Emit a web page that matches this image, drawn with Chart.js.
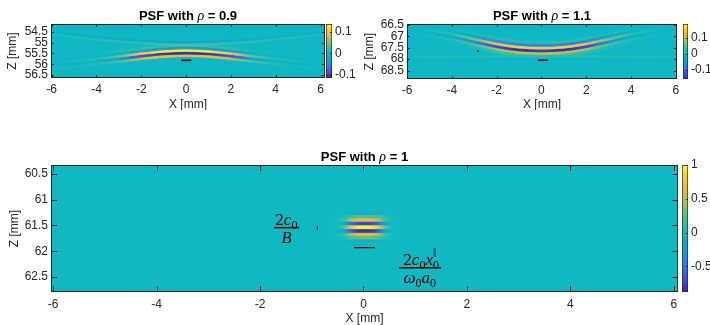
<!DOCTYPE html>
<html>
<head>
<meta charset="utf-8">
<script src="https://cdn.jsdelivr.net/npm/chart.js@4.4.1/dist/chart.umd.min.js"></script>
<style>
  body { margin: 0; width: 710px; height: 325px; background: #fff; position: relative; overflow: hidden; }
  canvas { position: absolute; }
</style>
</head>
<body>
<canvas id="psf09" width="334" height="110" style="left:0;top:0"></canvas>
<canvas id="cb09" width="30" height="110" style="left:326px;top:0"></canvas>
<canvas id="psf11" width="334" height="110" style="left:355px;top:0"></canvas>
<canvas id="cb11" width="27" height="110" style="left:683px;top:0"></canvas>
<canvas id="psf1" width="690" height="190" style="left:0;top:135px"></canvas>
<canvas id="cb1" width="28" height="190" style="left:682px;top:135px"></canvas>
<script>
const xTicks = [-6, -4, -2, 0, 2, 4, 6];

// PSF with rho = 0.9
const zTicks09 = [54.5, 55, 55.5, 56, 56.5];
const cbTicks09 = [0.1, 0, -0.1];
const arcX09 = [-6, -5, -4, -3, -2, -1, 0, 1, 2, 3, 4, 5, 6];
const arcZ09 = [55.97, 55.86, 55.74, 55.63, 55.5, 55.4, 55.36, 55.4, 55.5, 55.63, 55.74, 55.86, 55.97];
const arcGain09 = [0.03, 0.05, 0.1, 0.28, 0.8, 1, 1, 1, 0.8, 0.28, 0.1, 0.05, 0.03];
const stripeDz09 = [-0.24, -0.12, 0, 0.12, 0.24];
const stripePeak09 = [0.02, -0.04, 0.13, -0.11, 0.09];
const sideX09 = [-6, -4, -2, 0, 2, 4, 6];
const sideZ09 = [54.62, 54.85, 55.02, 55.1, 55.02, 54.85, 54.62];
const sideAmp09 = [0.012, 0.015, 0.02, 0.035, 0.02, 0.015, 0.012];
const dotX09 = [-2.9, -2.9], dotZ09 = [55.35, 55.42];
const barX09 = [-0.21, 0.23], barZ09 = [55.82, 55.82];

// PSF with rho = 1.1
const zTicks11 = [66.5, 67, 67.5, 68, 68.5];
const cbTicks11 = [0.1, 0, -0.1];
const arcX11 = [-6, -5, -4, -3, -2, -1, 0, 1, 2, 3, 4, 5, 6];
const arcZ11 = [66.55, 66.72, 66.9, 67.12, 67.33, 67.47, 67.52, 67.47, 67.33, 67.12, 66.9, 66.72, 66.55];
const arcGain11 = [0.03, 0.07, 0.16, 0.42, 0.85, 1, 0.95, 1, 0.85, 0.42, 0.16, 0.07, 0.03];
const stripeDz11 = [-0.24, -0.12, 0, 0.12, 0.24, 0.36];
const stripePeak11 = [0.02, -0.07, 0.15, -0.15, 0.1, 0.03];
const sideX11 = [-6, -4, -2, 0, 2, 4, 6];
const sideZ11 = [67.92, 67.9, 67.88, 67.86, 67.88, 67.9, 67.92];
const sideAmp11 = [0.012, 0.015, 0.02, 0.02, 0.02, 0.015, 0.012];
const dotX11 = [-2.83, -2.83], dotZ11 = [67.62, 67.68];
const barX11 = [-0.16, 0.29], barZ11 = [68.05, 68.05];

// PSF with rho = 1
const zTicks1 = [60.5, 61, 61.5, 62, 62.5];
const cbTicks1 = [1, 0.5, 0, -0.5];
const blobX1 = [-0.55, -0.45, -0.35, -0.25, -0.12, 0.03, 0.18, 0.31, 0.41, 0.51, 0.61];
const blobGain1 = [0, 0.1, 0.3, 0.7, 0.95, 1, 0.95, 0.7, 0.3, 0.1, 0];
const blobZ1 = [61.263, 61.329, 61.393, 61.458, 61.535, 61.607, 61.671, 61.737, 61.795];
const blobPeak1 = [-0.12, 0.25, 0.65, -0.75, 1, -0.85, 0.65, 0.3, -0.12];
const tickX1 = [-0.89, -0.89], tickZ1 = [61.51, 61.59];
const barX1 = [-0.18, 0.22], barZ1 = [61.93, 61.93];

const parulaStops = [
    [0, 62, 38, 168], [0.1, 71, 72, 232], [0.2, 52, 115, 246], [0.3, 31, 148, 226],
    [0.4, 10, 175, 205], [0.47, 16, 185, 194], [0.55, 52, 192, 160], [0.65, 120, 193, 110],
    [0.75, 195, 187, 75], [0.85, 253, 188, 58], [0.93, 245, 220, 40], [1, 249, 251, 14]
];
const tickFont = { family: "'Liberation Sans', Arial, sans-serif", size: 12 };
const axisColor = "#262626";

function parula(t) {
    t = Math.min(1, Math.max(0, t));
    let i = 1;
    while (i < parulaStops.length - 1 && parulaStops[i][0] < t) i++;
    const a = parulaStops[i - 1], b = parulaStops[i];
    const f = (t - a[0]) / (b[0] - a[0]);
    const c = [1, 2, 3].map((k) => Math.round(a[k] + (b[k] - a[k]) * f));
    return `rgb(${c[0]},${c[1]},${c[2]})`;
}

function stripe(xs, zs, amps, width, range) {
    const color = (v) => parula((v - range[0]) / (range[1] - range[0]));
    return {
        data: xs.map((x, i) => ({ x, y: zs[i] })),
        borderWidth: width,
        tension: 0.4,
        pointRadius: 0,
        borderCapStyle: "butt",
        borderColor: (context) => {
            const chart = context.chart;
            const area = chart.chartArea;
            if (!area) return color(0);
            const scale = chart.scales.x;
            const gradient = chart.ctx.createLinearGradient(area.left, 0, area.right, 0);
            xs.forEach((x, i) => {
                const p = (scale.getPixelForValue(x) - area.left) / (area.right - area.left);
                gradient.addColorStop(Math.min(1, Math.max(0, p)), color(amps[i]));
            });
            return gradient;
        }
    };
}

function marker(xs, zs, width) {
    return { data: xs.map((x, i) => ({ x, y: zs[i] })), borderColor: "#000", borderWidth: width, pointRadius: 0, tension: 0 };
}

function arcStripes(xs, zs, gains, offsets, peaks, width, range) {
    return offsets.map((dz, k) => stripe(xs, zs.map((z) => z + dz), gains.map((g) => g * peaks[k]), width, range));
}

function drawRuns(ctx, runs, cx, baseline) {
    let total = 0;
    runs.forEach((r) => { ctx.font = r.font; r.w = ctx.measureText(r.text).width; if (r.adv !== false) total += r.w; });
    let x = cx - total / 2;
    runs.forEach((r) => {
        ctx.font = r.font;
        ctx.fillText(r.text, x, baseline + (r.dy || 0));
        if (r.adv !== false) x += r.w;
    });
    return total;
}

function drawFraction(ctx, num, den, cx, barY, barWidth) {
    ctx.save();
    ctx.fillStyle = "#000";
    ctx.textBaseline = "alphabetic";
    drawRuns(ctx, num, cx, barY - 3);
    drawRuns(ctx, den, cx, barY + 15);
    ctx.fillRect(cx - barWidth / 2, barY - 0.7, barWidth, 1.4);
    ctx.restore();
}

const sansBold = "bold 13px 'Liberation Sans', Arial, sans-serif";
const rhoFont = "italic 14px 'Liberation Serif', serif";
const mathUp = "17px 'Liberation Serif', serif";
const mathIt = "italic 17px 'Liberation Serif', serif";
const mathSub = "12px 'Liberation Serif', serif";

function titleRuns(value) {
    return [
        { text: "PSF with ", font: sansBold },
        { text: "ρ", font: rhoFont },
        { text: " = " + value, font: sansBold }
    ];
}

const psfPlugin = {
    id: "psf",
    beforeDatasetsDraw(chart, args, opts) {
        const { ctx, chartArea: a } = chart;
        ctx.save();
        ctx.fillStyle = parula((0 - opts.range[0]) / (opts.range[1] - opts.range[0]));
        ctx.fillRect(a.left, a.top, a.right - a.left, a.bottom - a.top);
        ctx.restore();
    },
    afterDatasetsDraw(chart, args, opts) {
        if (opts.annotate) opts.annotate(chart);
    },
    afterDraw(chart, args, opts) {
        const { ctx, chartArea: a, scales: { x, y } } = chart;
        const len = opts.tickLength;
        ctx.save();
        ctx.strokeStyle = axisColor;
        ctx.lineWidth = 1;
        ctx.beginPath();
        x.ticks.forEach((t) => {
            const px = Math.round(x.getPixelForValue(t.value)) + 0.5;
            ctx.moveTo(px, a.top); ctx.lineTo(px, a.top + len);
            ctx.moveTo(px, a.bottom); ctx.lineTo(px, a.bottom - len);
        });
        y.ticks.forEach((t) => {
            const py = Math.round(y.getPixelForValue(t.value)) + 0.5;
            ctx.moveTo(a.left, py); ctx.lineTo(a.left + len, py);
            ctx.moveTo(a.right, py); ctx.lineTo(a.right - len, py);
        });
        ctx.stroke();
        ctx.strokeRect(a.left + 0.5, a.top + 0.5, a.right - a.left - 1, a.bottom - a.top - 1);
        ctx.fillStyle = "#000";
        ctx.textBaseline = "alphabetic";
        drawRuns(ctx, titleRuns(opts.title), (a.left + a.right) / 2, opts.titleBaseline);
        ctx.restore();
    }
};

function psfChart(id, cfg) {
    return new Chart(document.getElementById(id), {
        type: "line",
        data: { datasets: cfg.datasets },
        plugins: [psfPlugin],
        options: {
            responsive: false,
            animation: false,
            events: [],
            layout: { padding: { top: cfg.padTop, right: cfg.padRight, left: 0, bottom: 0 } },
            plugins: {
                legend: { display: false },
                tooltip: { enabled: false },
                psf: { range: cfg.range, tickLength: cfg.tickLength, title: cfg.title, titleBaseline: cfg.titleBaseline, annotate: cfg.annotate }
            },
            scales: {
                x: {
                    type: "linear", min: cfg.xRange[0], max: cfg.xRange[1],
                    afterBuildTicks: (s) => { s.ticks = xTicks.map((v) => ({ value: v })); },
                    afterFit: (s) => { s.height = cfg.xHeight; },
                    grid: { display: false, drawTicks: false }, border: { display: false },
                    ticks: { font: tickFont, color: axisColor, padding: cfg.xTickPad, maxRotation: 0, autoSkip: false, callback: (v) => String(v) },
                    title: { display: true, text: "X [mm]", font: tickFont, color: axisColor, padding: { top: 0, bottom: cfg.xTitlePad } }
                },
                y: {
                    type: "linear", reverse: true, min: cfg.zRange[0], max: cfg.zRange[1],
                    afterBuildTicks: (s) => { s.ticks = cfg.zTicks.map((v) => ({ value: v })); },
                    afterFit: (s) => { s.width = cfg.yWidth; },
                    grid: { display: false, drawTicks: false }, border: { display: false },
                    ticks: { font: tickFont, color: axisColor, padding: 3, autoSkip: false, callback: (v) => String(v) },
                    title: { display: true, text: "Z [mm]", font: tickFont, color: axisColor, padding: { top: cfg.yTitlePad, bottom: 0 } }
                }
            }
        }
    });
}

const colorbarPlugin = {
    id: "cbTicks",
    afterDatasetsDraw(chart) {
        const { ctx, chartArea: a, scales: { y } } = chart;
        ctx.save();
        ctx.strokeStyle = axisColor;
        ctx.lineWidth = 1;
        ctx.beginPath();
        y.ticks.forEach((t) => {
            const py = Math.round(y.getPixelForValue(t.value)) + 0.5;
            ctx.moveTo(a.right, py); ctx.lineTo(a.right - 2, py);
        });
        ctx.stroke();
        ctx.restore();
    }
};

function colorbar(id, cfg) {
    return new Chart(document.getElementById(id), {
        type: "bar",
        data: {
            labels: [""],
            datasets: [{
                data: [[cfg.range[0], cfg.range[1]]],
                backgroundColor: (context) => {
                    const area = context.chart.chartArea;
                    if (!area) return parula(0.5);
                    const g = context.chart.ctx.createLinearGradient(0, area.bottom, 0, area.top);
                    parulaStops.forEach((s) => g.addColorStop(s[0], parula(s[0])));
                    return g;
                },
                borderColor: axisColor,
                borderWidth: 1,
                borderSkipped: false,
                barPercentage: 1,
                categoryPercentage: 1
            }]
        },
        plugins: [colorbarPlugin],
        options: {
            responsive: false,
            animation: false,
            events: [],
            layout: { padding: { top: cfg.padTop, bottom: cfg.padBottom, left: 0, right: 0 } },
            plugins: { legend: { display: false }, tooltip: { enabled: false } },
            scales: {
                x: { display: false },
                y: {
                    position: "right", min: cfg.range[0], max: cfg.range[1],
                    afterBuildTicks: (s) => { s.ticks = cfg.ticks.map((v) => ({ value: v })); },
                    afterFit: (s) => { s.width = cfg.axisWidth; },
                    grid: { display: false, drawTicks: false }, border: { display: false },
                    ticks: { font: tickFont, color: axisColor, padding: 3, autoSkip: false, callback: (v) => String(v) }
                }
            }
        }
    });
}

const range09 = [-0.116, 0.137];
const range11 = [-0.156, 0.185];
const range1 = [-0.88, 1];

psfChart("psf09", {
    datasets: [
        stripe(sideX09, sideZ09, sideAmp09, 2, range09),
        stripe(sideX09, sideZ09.map((z) => z - 0.12), sideAmp09.map((v) => -v), 2, range09),
        ...arcStripes(arcX09, arcZ09, arcGain09, stripeDz09, stripePeak09, 2.8, range09),
        marker(dotX09, dotZ09, 1.5),
        marker(barX09, barZ09, 1.5)
    ],
    range: range09, xRange: [-6.03, 6.2], zRange: [54.13, 56.64], zTicks: zTicks09,
    padTop: 24, padRight: 9, yWidth: 51, xHeight: 32, xTickPad: 4, xTitlePad: -2, yTitlePad: 5,
    tickLength: 2.7, title: "0.9", titleBaseline: 19.5
});
colorbar("cb09", { range: range09, ticks: cbTicks09, padTop: 24, padBottom: 32, axisWidth: 24 });

psfChart("psf11", {
    datasets: [
        stripe(sideX11, sideZ11, sideAmp11, 2, range11),
        ...arcStripes(arcX11, arcZ11, arcGain11, stripeDz11, stripePeak11, 2.8, range11),
        marker(dotX11, dotZ11, 1.5),
        marker(barX11, barZ11, 1.5)
    ],
    range: range11, xRange: [-6.0, 6.05], zRange: [66.46, 68.87], zTicks: zTicks11,
    padTop: 24, padRight: 12, yWidth: 52, xHeight: 31, xTickPad: 4, xTitlePad: -2, yTitlePad: 7.5,
    tickLength: 2.7, title: "1.1", titleBaseline: 19.5
});
colorbar("cb11", { range: range11, ticks: cbTicks11, padTop: 24, padBottom: 31, axisWidth: 22 });

psfChart("psf1", {
    datasets: [
        ...blobZ1.map((z, k) => stripe(blobX1, blobX1.map(() => z), blobGain1.map((g) => g * blobPeak1[k]), 3.6, range1)),
        marker(tickX1, tickZ1, 1.2),
        marker(barX1, barZ1, 1.2)
    ],
    range: range1, xRange: [-6.04, 6.08], zRange: [60.33, 62.79], zTicks: zTicks1,
    padTop: 30, padRight: 12, yWidth: 51, xHeight: 33, xTickPad: 5, xTitlePad: -1, yTitlePad: 7.5,
    tickLength: 6, title: "1", titleBaseline: 25.5,
    annotate: (chart) => {
        const { ctx, scales: { x, y } } = chart;
        drawFraction(ctx,
            [{ text: "2", font: mathUp }, { text: "c", font: mathIt }, { text: "0", font: mathSub, dy: 4 }],
            [{ text: "B", font: mathIt }],
            x.getPixelForValue(-1.49), y.getPixelForValue(61.543), 25);
        drawFraction(ctx,
            [{ text: "2", font: mathUp }, { text: "c", font: mathIt }, { text: "0", font: mathSub, dy: 4 },
             { text: "x", font: mathIt }, { text: "0", font: mathSub, dy: 4, adv: false }, { text: "‖", font: mathSub, dy: -8 }],
            [{ text: "ω", font: mathIt }, { text: "0", font: mathSub, dy: 4 }, { text: "a", font: mathIt }, { text: "0", font: mathSub, dy: 4 }],
            x.getPixelForValue(1.09), y.getPixelForValue(62.32), 42);
    }
});
colorbar("cb1", { range: range1, ticks: cbTicks1, padTop: 30, padBottom: 33, axisWidth: 22 });
</script>
</body>
</html>
